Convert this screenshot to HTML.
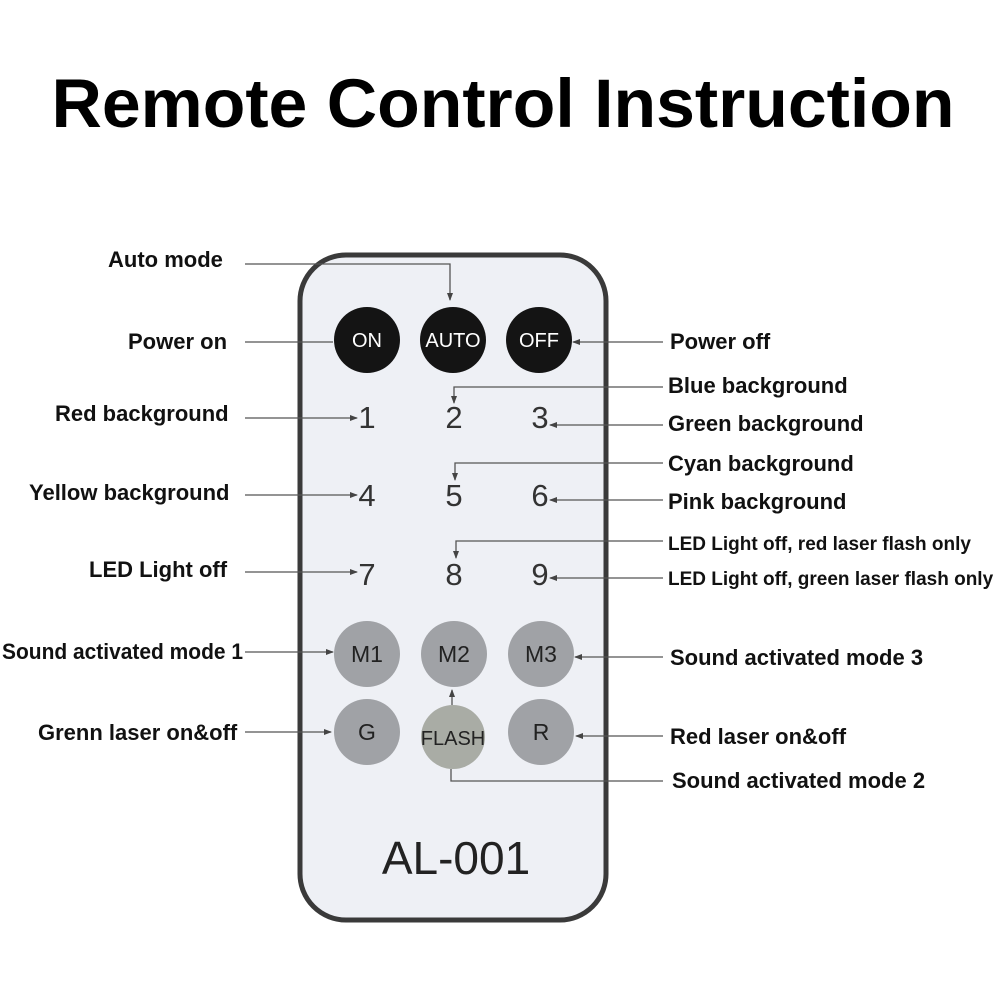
<!DOCTYPE html>
<html><head><style>
body{margin:0;background:#fff}
svg{display:block}
.l{font-family:"Liberation Sans",sans-serif;font-weight:bold;font-size:22px;fill:#111}
.s{font-size:19px}
.n{font-family:"Liberation Sans",sans-serif;font-size:31px;fill:#333;text-anchor:middle}
.b{font-family:"Liberation Sans",sans-serif;font-size:20px;fill:#fff;text-anchor:middle}
.g{font-family:"Liberation Sans",sans-serif;font-size:23px;fill:#222;text-anchor:middle}
line,polyline{stroke:#555;stroke-width:1.3;fill:none}
</style></head><body>
<svg width="1000" height="1000" viewBox="0 0 1000 1000">
<defs><marker id="a" markerWidth="8" markerHeight="6" refX="7" refY="3" orient="auto" markerUnits="userSpaceOnUse"><path d="M0,0L8,3L0,6z" fill="#444"/></marker></defs>
<text x="503" y="127" text-anchor="middle" font-family="Liberation Sans,sans-serif" font-weight="bold" font-size="69" fill="#000" textLength="903" lengthAdjust="spacingAndGlyphs">Remote Control Instruction</text>
<rect x="300" y="255" width="306" height="665" rx="46" fill="#eef0f5" stroke="#3a3a3a" stroke-width="5"/>
<g>
<circle cx="367" cy="340" r="33" fill="#141414"/><text class="b" x="367" y="347">ON</text>
<circle cx="453" cy="340" r="33" fill="#141414"/><text class="b" x="453" y="347">AUTO</text>
<circle cx="539" cy="340" r="33" fill="#141414"/><text class="b" x="539" y="347">OFF</text>
</g>
<text class="n" x="367" y="428">1</text><text class="n" x="454" y="428">2</text><text class="n" x="540" y="428">3</text>
<text class="n" x="367" y="506">4</text><text class="n" x="454" y="506">5</text><text class="n" x="540" y="506">6</text>
<text class="n" x="367" y="585">7</text><text class="n" x="454" y="585">8</text><text class="n" x="540" y="585">9</text>
<circle cx="367" cy="654" r="33" fill="#a0a2a6"/><text class="g" x="367" y="662">M1</text>
<circle cx="454" cy="654" r="33" fill="#a0a2a6"/><text class="g" x="454" y="662">M2</text>
<circle cx="541" cy="654" r="33" fill="#a0a2a6"/><text class="g" x="541" y="662">M3</text>
<circle cx="367" cy="732" r="33" fill="#a0a2a6"/><text class="g" x="367" y="740">G</text>
<circle cx="453" cy="737" r="32" fill="#a9aca5"/><text class="g" x="453" y="745" style="font-size:20px">FLASH</text>
<circle cx="541" cy="732" r="33" fill="#a0a2a6"/><text class="g" x="541" y="740">R</text>
<text x="456" y="874" text-anchor="middle" font-family="Liberation Sans,sans-serif" font-size="46" fill="#222">AL-001</text>

<polyline points="245,264 450,264 450,300" marker-end="url(#a)"/>
<line x1="245" y1="342" x2="333" y2="342"/>
<line x1="663" y1="342" x2="573" y2="342" marker-end="url(#a)"/>
<polyline points="663,387 454,387 454,403" marker-end="url(#a)"/>
<line x1="245" y1="418" x2="357" y2="418" marker-end="url(#a)"/>
<line x1="663" y1="425" x2="550" y2="425" marker-end="url(#a)"/>
<polyline points="663,463 455,463 455,480" marker-end="url(#a)"/>
<line x1="245" y1="495" x2="357" y2="495" marker-end="url(#a)"/>
<line x1="663" y1="500" x2="550" y2="500" marker-end="url(#a)"/>
<polyline points="663,541 456,541 456,558" marker-end="url(#a)"/>
<line x1="245" y1="572" x2="357" y2="572" marker-end="url(#a)"/>
<line x1="663" y1="578" x2="550" y2="578" marker-end="url(#a)"/>
<line x1="245" y1="652" x2="333" y2="652" marker-end="url(#a)"/>
<line x1="663" y1="657" x2="575" y2="657" marker-end="url(#a)"/>
<line x1="245" y1="732" x2="331" y2="732" marker-end="url(#a)"/>
<line x1="663" y1="736" x2="576" y2="736" marker-end="url(#a)"/>
<line x1="452" y1="705" x2="452" y2="690" marker-end="url(#a)"/>
<polyline points="663,781 451,781 451,769"/>

<text class="l" x="108" y="267">Auto mode</text>
<text class="l" x="128" y="349">Power on</text>
<text class="l" x="670" y="349">Power off</text>
<text class="l" x="668" y="393">Blue background</text>
<text class="l" x="55" y="421">Red background</text>
<text class="l" x="668" y="431">Green background</text>
<text class="l" x="668" y="471">Cyan background</text>
<text class="l" x="29" y="500">Yellow background</text>
<text class="l" x="668" y="509">Pink background</text>
<text class="l s" x="668" y="550">LED Light off, red laser flash only</text>
<text class="l" x="89" y="577">LED Light off</text>
<text class="l s" x="668" y="585">LED Light off, green laser flash only</text>
<text class="l" x="2" y="659" textLength="241" lengthAdjust="spacingAndGlyphs">Sound activated mode 1</text>
<text class="l" x="670" y="665">Sound activated mode 3</text>
<text class="l" x="38" y="740">Grenn laser on&amp;off</text>
<text class="l" x="670" y="744">Red laser on&amp;off</text>
<text class="l" x="672" y="788">Sound activated mode 2</text>
</svg>
</body></html>
